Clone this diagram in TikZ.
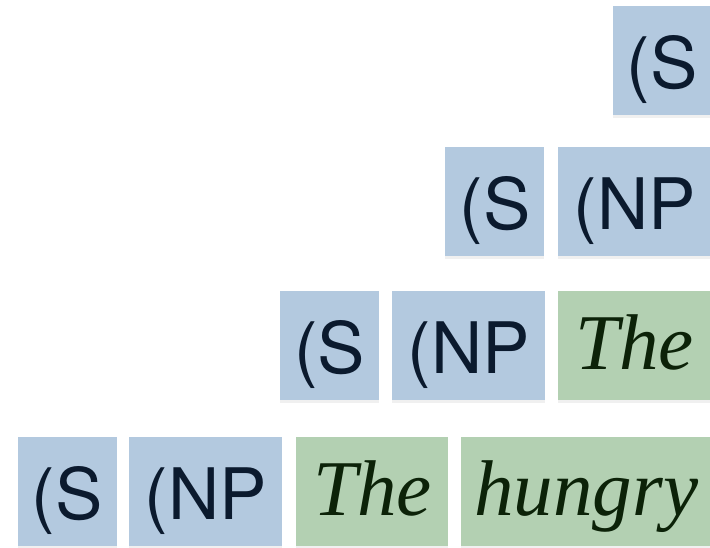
\documentclass[tikz,border=0pt]{standalone}
\usepackage{fontspec}
\usepackage{tikz}
\usetikzlibrary{positioning,shadows}
\newfontfamily\labelfont{TeX Gyre Heros}
\newfontfamily\wordfont{Liberation Serif}
\definecolor{ntblue}{HTML}{B3C9DF}
\definecolor{ntink}{HTML}{0B1A2E}
\definecolor{wdgreen}{HTML}{B3D0B2}
\definecolor{wdink}{HTML}{0C2208}

\begin{document}
\begin{tikzpicture}[
  x=1pt, y=-1pt,
  tok/.style={minimum height=109pt, inner sep=0pt,
    drop shadow={shadow xshift=0pt, shadow yshift=-3pt, opacity=0.12}},
  nt/.style={tok, fill=ntblue, text=ntink, minimum width=99pt,
    text height=62pt, text depth=6pt,
    font=\labelfont\fontsize{71}{71}\selectfont},
  wd/.style={tok, fill=wdgreen, text=wdink, minimum width=152pt,
    text height=58pt, text depth=10pt,
    font=\wordfont\itshape\fontsize{79}{79}\selectfont}
]
  \useasboundingbox (0,0) rectangle (710,547);

  % row 1
  \node[nt, anchor=north east] (s1) at (712,6) {(S};

  % row 2
  \node[nt, minimum width=154pt, anchor=north east] (np2) at (712,147) {(NP};
  \node[nt, left=13pt of np2] (s2) {(S};

  % row 3
  \node[wd, minimum width=154pt, anchor=north east] (the3) at (712,291) {The};
  \node[nt, minimum width=153pt, left=12pt of the3] (np3) {(NP};
  \node[nt, left=13pt of np3] (s3) {(S};

  % row 4
  \node[wd, minimum width=251pt, anchor=north east] (hungry4) at (712,437) {hungry};
  \node[wd, left=12pt of hungry4] (the4) {The};
  \node[nt, minimum width=153pt, left=14pt of the4] (np4) {(NP};
  \node[nt, left=12pt of np4] (s4) {(S};
\end{tikzpicture}
\end{document}
